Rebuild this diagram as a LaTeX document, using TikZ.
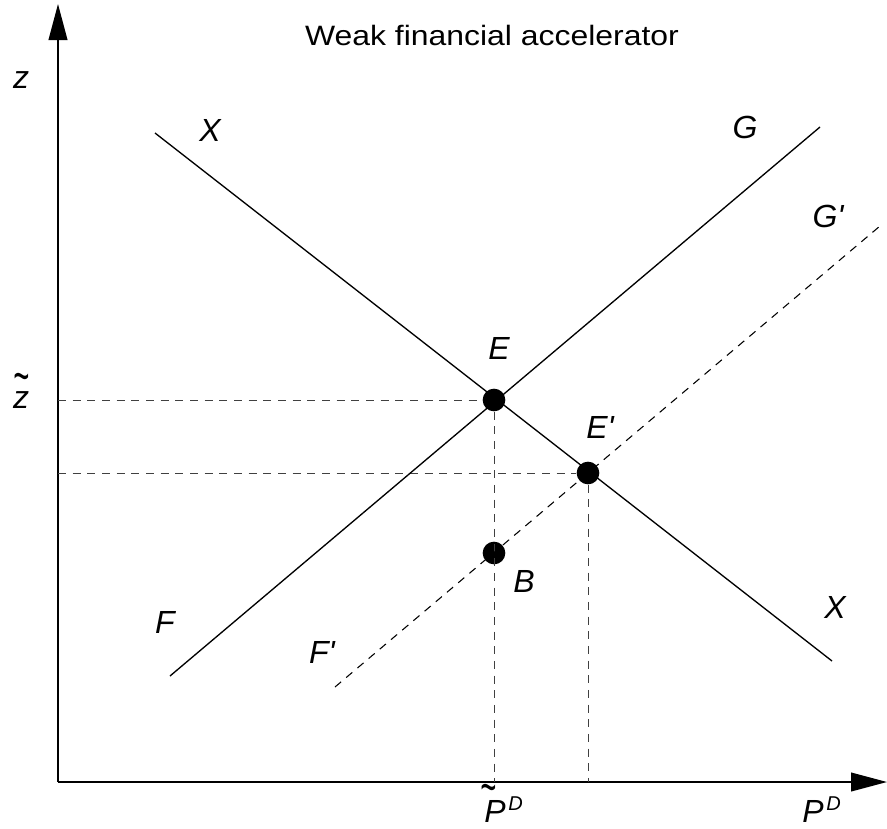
\documentclass[tikz,border=0pt]{standalone}
\usepackage{fontspec}
\setmainfont{Liberation Sans}
\usetikzlibrary{arrows.meta}
\newcommand\tildeover[3]{\leavevmode\setbox0\hbox{#3}\rlap{\hbox to\wd0{\hss\kern#2\raisebox{#1}{\scalebox{0.85}[1.6]{\symbol{"7E}}}\hss}}\box0}
\newcommand\supD{\kern2pt\raisebox{9pt}{\fontsize{15}{17}\selectfont D}}
\begin{document}
\begin{tikzpicture}[x=0.75pt,y=-0.75pt,
  dot/.style={circle,fill=black,inner sep=0pt,minimum size=17pt},
  lbl/.style={font=\fontsize{24}{28}\selectfont\itshape,inner sep=0pt},
  axis/.style={line width=1.4pt,-{Triangle[length=27pt,width=14pt]}},
  curve/.style={line width=1pt},
  dcurve/.style={line width=0.8pt,dash pattern=on 6pt off 5pt},
  guide/.style={line width=0.7pt,black!75,dash pattern=on 6pt off 5pt}]
\useasboundingbox (0,0) rectangle (887,828);
% axes
\coordinate (O) at (58,782);
\coordinate (Ytop) at (58,4);
\coordinate (Xend) at (887,782);
\draw[axis] (O) -- (Ytop);
\draw[axis] (O) -- (Xend);
% curve endpoints
\coordinate (G1) at (170,676);
\coordinate (G2) at (820,127);
\coordinate (X1) at (155,133);
\coordinate (X2) at (832,661);
\coordinate (Gp1) at (335,687);
\coordinate (Gp2) at (880,226);
% guide feet
\coordinate (zt) at (58,400);
\coordinate (zp) at (58,473);
\coordinate (pt) at (494,782);
\coordinate (pp) at (588,782);
% points
\node[dot] (E) at (494,400) {};
\node[dot] (Ep) at (588,473) {};
\node[dot] (B) at (494,553) {};
% guides
\draw[guide] (zt) -- (E);
\draw[guide] (zp) -- (Ep);
\draw[guide] (E) -- (pt);
\draw[guide] (Ep) -- (pp);
% curves
\draw[curve] (G1) -- (G2);
\draw[curve] (X1) -- (X2);
\draw[dcurve] (Gp1) -- (Gp2);
% labels
\node[font=\fontsize{21}{25}\selectfont,inner sep=0pt,anchor=base] (title) at (492,45) {\scalebox{1.14}[1]{Weak financial accelerator}};
\node[lbl,anchor=base] (lz) at (21,88) {z};
\node[lbl,anchor=base] (lzt) at (21,408) {\tildeover{11pt}{0pt}{z}};
\node[lbl] (lX1) at (210,130) {X};
\node[lbl] (lG) at (745,127) {G};
\node[lbl] (lGp) at (828,216) {G\textquotesingle};
\node[lbl] (lE) at (499,348) {E};
\node[lbl] (lEp) at (600,427) {E\textquotesingle};
\node[lbl] (lB) at (524,581) {B};
\node[lbl] (lF) at (165,622) {F};
\node[lbl] (lFp) at (322,652) {F\textquotesingle};
\node[lbl] (lX2) at (835,607) {X};
\node[lbl,anchor=base west] (lpt) at (484,822) {\tildeover{13pt}{-10pt}{P}\supD};
\node[lbl,anchor=base west] (lp) at (802,822) {P\supD};
\end{tikzpicture}
\end{document}
